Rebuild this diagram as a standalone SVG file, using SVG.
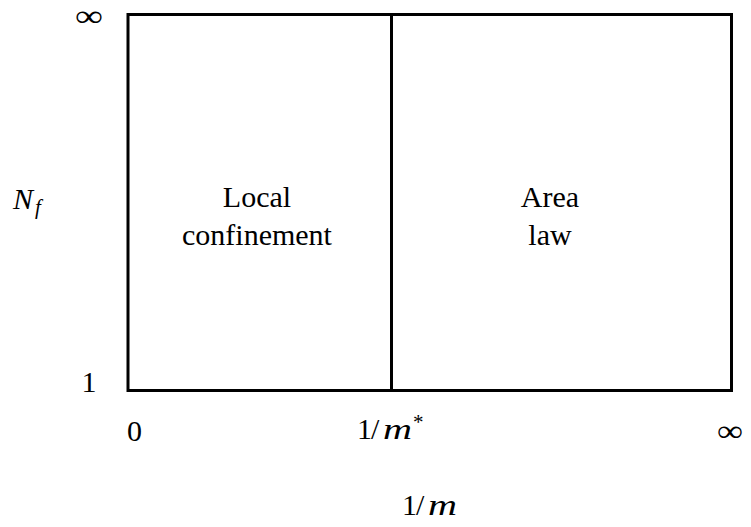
<svg xmlns="http://www.w3.org/2000/svg" width="751" height="527" viewBox="0 0 751 527">
<style>
.t{font-family:'Liberation Serif','DejaVu Serif',serif;font-size:30px;fill:#000}
.i{font-style:italic}
.sm{font-size:21px}
.ln{fill:none;stroke:#000;stroke-width:3;stroke-linecap:square}
</style>
<rect width="751" height="527" fill="#fff"/>
<g id="connectors">
<rect class="ln" x="128" y="14.5" width="603.5" height="376"/>
<line class="ln" x1="391.5" y1="14.5" x2="391.5" y2="390.5"/>
</g>
<g id="y-infinity"><text class="t" font-size="29" x="75" y="26" textLength="28" lengthAdjust="spacingAndGlyphs">∞</text></g>
<g id="y-label"><text class="t" y="209"><tspan class="i" x="13">N</tspan><tspan class="i sm" x="35" dy="5">f</tspan></text></g>
<g id="y-one"><text class="t" x="89" y="392" text-anchor="middle">1</text></g>
<g id="x-zero"><text class="t" x="134.5" y="441" text-anchor="middle">0</text></g>
<g id="x-mstar"><text class="t" y="439"><tspan x="357">1</tspan><tspan x="371">/</tspan><tspan class="i" x="383" textLength="29" lengthAdjust="spacingAndGlyphs">m</tspan><tspan class="sm" x="413" dy="-10">*</tspan></text></g>
<g id="x-infinity"><text class="t" x="717" y="441" textLength="26" lengthAdjust="spacingAndGlyphs">∞</text></g>
<g id="x-label"><text class="t" y="515"><tspan x="402">1</tspan><tspan x="416">/</tspan><tspan class="i" x="428" textLength="29" lengthAdjust="spacingAndGlyphs">m</tspan></text></g>
<g id="local-confinement">
<text class="t" x="257" y="207" text-anchor="middle">Local</text>
<text class="t" x="257" y="245" text-anchor="middle">confinement</text>
</g>
<g id="area-law">
<text class="t" x="550" y="207" text-anchor="middle">Area</text>
<text class="t" x="550" y="245" text-anchor="middle">law</text>
</g>
</svg>
